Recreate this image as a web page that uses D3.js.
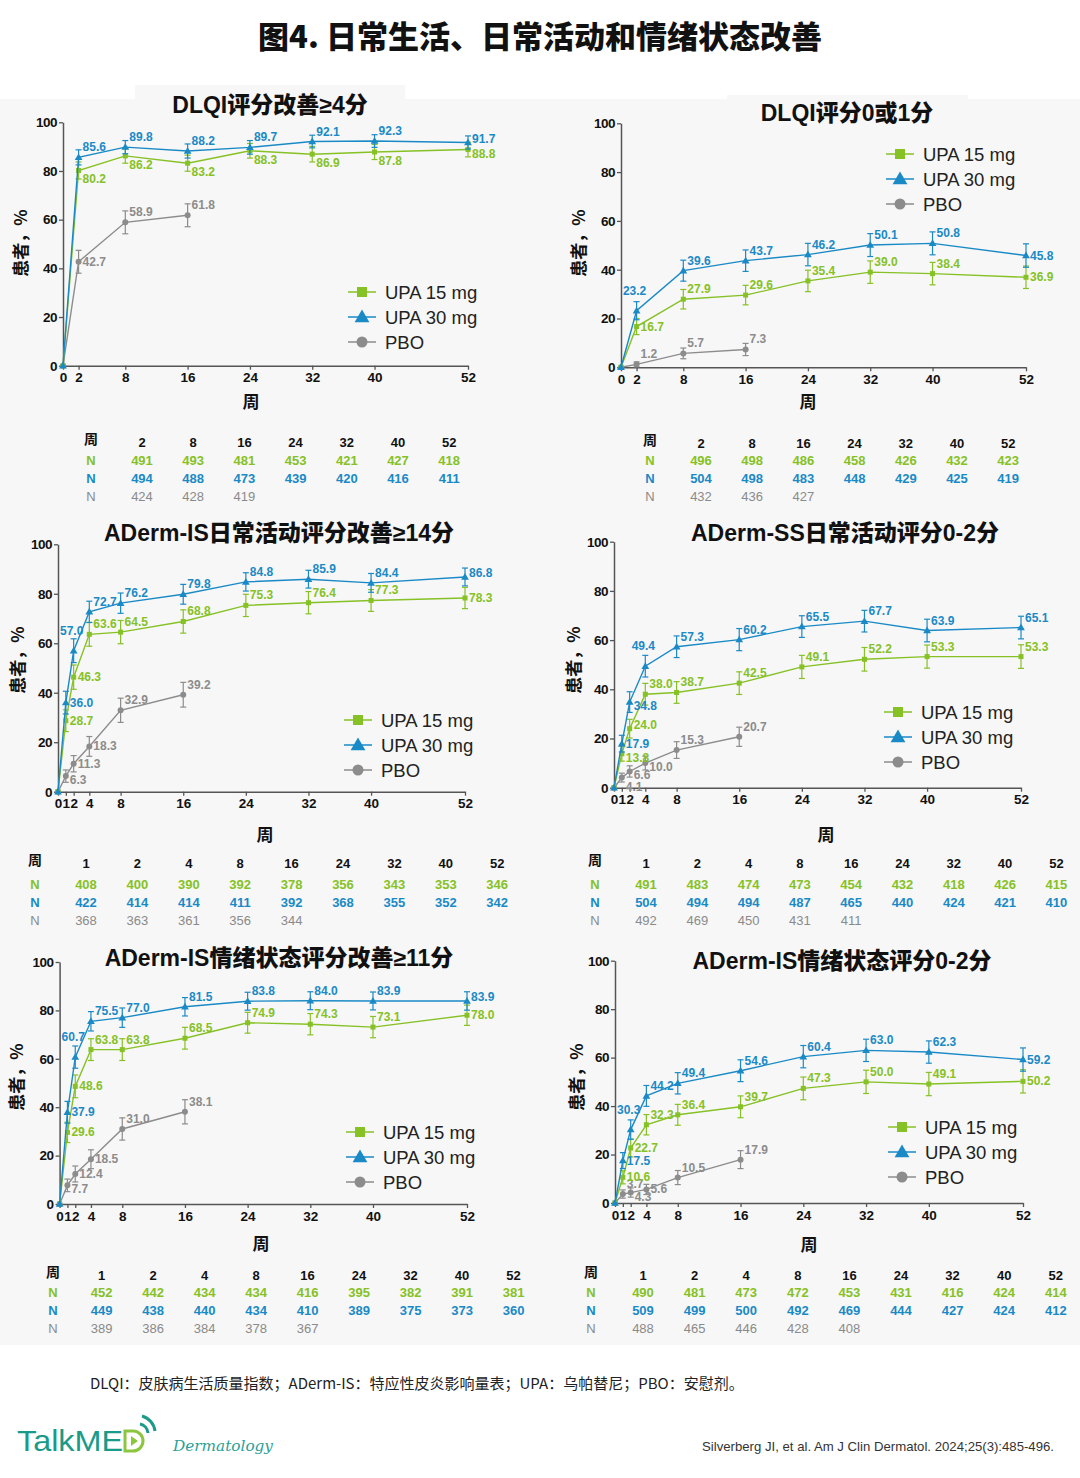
<!DOCTYPE html>
<html>
<head>
<meta charset="utf-8">
<script src="https://cdn.jsdelivr.net/npm/d3@7"></script>
<style>
  body { margin: 0; background: #fff; }
  svg { display: block; }
</style>
</head>
<body>
<script>
// ** Weeks on the x axis and in the N tables
var weeksA = [0, 2, 8, 16, 24, 32, 40, 52];
var weeksB = [0, 1, 2, 4, 8, 16, 24, 32, 40, 52];
var pboWeeksA = [0, 2, 8, 16];
var pboWeeksB = [0, 1, 2, 4, 8, 16];
var tableWeeksA = [2, 8, 16, 24, 32, 40, 52];
var tableWeeksB = [1, 2, 4, 8, 16, 24, 32, 40, 52];
var seriesNames = ['UPA 15 mg', 'UPA 30 mg', 'PBO'];

// ** DLQI评分改善≥4分
var dlqi4Upa15 = [0, 80.2, 86.2, 83.2, 88.3, 86.9, 87.8, 88.8];
var dlqi4Upa30 = [0, 85.6, 89.8, 88.2, 89.7, 92.1, 92.3, 91.7];
var dlqi4Pbo = [0, 42.7, 58.9, 61.8];
var dlqi4Ci15 = [3.5, 3.0, 3.3, 3.0, 3.2, 3.1, 3.0];
var dlqi4Ci30 = [3.1, 2.7, 2.9, 2.8, 2.6, 2.6, 2.7];
var dlqi4CiPbo = [4.7, 4.7, 4.7];
var dlqi4N15 = [491, 493, 481, 453, 421, 427, 418];
var dlqi4N30 = [494, 488, 473, 439, 420, 416, 411];
var dlqi4NPbo = [424, 428, 419];

// ** DLQI评分0或1分
var dlqi01Upa15 = [0, 16.7, 27.9, 29.6, 35.4, 39.0, 38.4, 36.9];
var dlqi01Upa30 = [0, 23.2, 39.6, 43.7, 46.2, 50.1, 50.8, 45.8];
var dlqi01Pbo = [0, 1.2, 5.7, 7.3];
var dlqi01Ci15 = [3.3, 4.0, 4.0, 4.4, 4.6, 4.6, 4.6];
var dlqi01Ci30 = [3.7, 4.3, 4.4, 4.6, 4.7, 4.7, 4.8];
var dlqi01CiPbo = [1.0, 2.2, 2.5];
var dlqi01N15 = [496, 498, 486, 458, 426, 432, 423];
var dlqi01N30 = [504, 498, 483, 448, 429, 425, 419];
var dlqi01NPbo = [432, 436, 427];

// ** ADerm-IS日常活动评分改善≥14分
var isDaUpa15 = [0, 28.7, 46.3, 63.6, 64.5, 68.8, 75.3, 76.4, 77.3, 78.3];
var isDaUpa30 = [0, 36.0, 57.0, 72.7, 76.2, 79.8, 84.8, 85.9, 84.4, 86.8];
var isDaPbo = [0, 6.3, 11.3, 18.3, 32.9, 39.2];
var isDaCi15 = [4.4, 4.9, 4.8, 4.7, 4.7, 4.5, 4.5, 4.4, 4.3];
var isDaCi30 = [4.6, 4.8, 4.3, 4.1, 4.0, 3.7, 3.6, 3.8, 3.6];
var isDaCiPbo = [2.5, 3.3, 4.0, 4.9, 5.0];
var isDaN15 = [408, 400, 390, 392, 378, 356, 343, 353, 346];
var isDaN30 = [422, 414, 414, 411, 392, 368, 355, 352, 342];
var isDaNPbo = [368, 363, 361, 356, 344];

// ** ADerm-SS日常活动评分0-2分
var ssDaUpa15 = [0, 13.8, 24.0, 38.0, 38.7, 42.5, 49.1, 52.2, 53.3, 53.3];
var ssDaUpa30 = [0, 17.9, 34.8, 49.4, 57.3, 60.2, 65.5, 67.7, 63.9, 65.1];
var ssDaPbo = [0, 4.1, 6.6, 10.0, 15.3, 20.7];
var ssDaCi15 = [3.0, 3.8, 4.4, 4.4, 4.6, 4.7, 4.8, 4.7, 4.8];
var ssDaCi30 = [3.4, 4.2, 4.4, 4.4, 4.5, 4.4, 4.4, 4.6, 4.6];
var ssDaCiPbo = [1.8, 2.3, 2.8, 3.4, 3.9];
var ssDaN15 = [491, 483, 474, 473, 454, 432, 418, 426, 415];
var ssDaN30 = [504, 494, 494, 487, 465, 440, 424, 421, 410];
var ssDaNPbo = [492, 469, 450, 431, 411];

// ** ADerm-IS情绪状态评分改善≥11分
var isEsUpa15 = [0, 29.6, 48.6, 63.8, 63.8, 68.5, 74.9, 74.3, 73.1, 78.0];
var isEsUpa30 = [0, 37.9, 60.7, 75.5, 77.0, 81.5, 83.8, 84.0, 83.9, 83.9];
var isEsPbo = [0, 7.7, 12.4, 18.5, 31.0, 38.1];
var isEsCi15 = [4.2, 4.7, 4.5, 4.5, 4.5, 4.3, 4.4, 4.4, 4.2];
var isEsCi30 = [4.5, 4.6, 4.0, 4.0, 3.8, 3.7, 3.7, 3.7, 3.8];
var isEsCiPbo = [2.6, 3.3, 3.9, 4.6, 5.0];
var isEsN15 = [452, 442, 434, 434, 416, 395, 382, 391, 381];
var isEsN30 = [449, 438, 440, 434, 410, 389, 375, 373, 360];
var isEsNPbo = [389, 386, 384, 378, 367];

// ** ADerm-IS情绪状态评分0-2分
var is02Upa15 = [0, 10.6, 22.7, 32.3, 36.4, 39.7, 47.3, 50.0, 49.1, 50.2];
var is02Upa30 = [0, 17.5, 30.3, 44.2, 49.4, 54.6, 60.4, 63.0, 62.3, 59.2];
var is02Pbo = [0, 3.7, 4.3, 5.6, 10.5, 17.9];
var is02Ci15 = [2.7, 3.7, 4.2, 4.3, 4.5, 4.7, 4.8, 4.8, 4.8];
var is02Ci30 = [3.3, 4.0, 4.3, 4.4, 4.5, 4.6, 4.6, 4.6, 4.8];
var is02CiPbo = [1.7, 1.9, 2.1, 2.9, 3.7];
var is02N15 = [490, 481, 473, 472, 453, 431, 416, 424, 414];
var is02N30 = [509, 499, 500, 492, 469, 444, 427, 424, 412];
var is02NPbo = [488, 465, 446, 428, 408];

//** Colours and fonts
var GREEN = '#86c125', BLUE = '#1a8ac6', GRAY = '#8c8c8c';
var colors = [GREEN, BLUE, GRAY];
var FONT = "'Liberation Sans','Noto Sans CJK SC',sans-serif";
var CJK = "'Noto Sans CJK SC','Liberation Sans',sans-serif";

//** Label placement per point (r: right, ur/dr: right nudged up/down, ar: above right, br: below right, a: above)
var labelPos = {
  dlqi4: [['br','br','br','br','br','br','dr'], ['ar','ar','ar','ar','ar','ar','ur'], ['r','ar','ar']],
  dlqi01: [['r','ar','ar','ar','ar','ar','r'], ['a','ar','ar','ar','ar','ar','r'], ['ar','ar','ar']],
  isDa: [['r','r','ar','ar','ar','ar','ar','ar','r'], ['r','a','ar','ar','ar','ar','ar','ar','ur'], ['dr','r','r','ar','ar']],
  ssDa: [['dr','ur','ar','ar','ar','ar','ar','ar','ar'], ['r','dr','a','ar','ar','ar','ar','ar','ar'], ['br','dr','dr','ar','ar']],
  isEs: [['r','r','ar','ar','ar','ar','ar','ar','r'], ['r','a','ar','ar','ar','ar','ar','ar','ur'], ['dr','r','r','ar','ar']],
  is02: [['r','r','ar','ar','ar','ar','ar','ar','r'], ['r','a','ar','ar','ar','ar','ar','ar','r'], ['ar','dr','r','ar','ar']]
};
var labelShift = { r: [4, 0], ur: [4, -4], dr: [4, 4], ar: [4, -10], br: [4, 9], a: [-2, -20] };

var svg = d3.select('body').append('svg')
  .attr('width', 1080).attr('height', 1478)
  .style('font-family', FONT);

// ** Background
svg.append('rect').attr('x', 0).attr('y', 0).attr('width', 1080).attr('height', 1478).attr('fill', '#fff');
svg.append('rect').attr('x', 0).attr('y', 99).attr('width', 1080).attr('height', 1246).attr('fill', '#f7f7f7');
svg.append('rect').attr('x', 135).attr('y', 85).attr('width', 270).attr('height', 15).attr('fill', '#f7f7f7');
svg.append('rect').attr('x', 727).attr('y', 95).attr('width', 241).attr('height', 5).attr('fill', '#f7f7f7');

// ** Main title
svg.append('text').attr('x', 540).attr('y', 48).attr('text-anchor', 'middle')
  .style('font-family', CJK).style('font-size', '31px').style('font-weight', 900)
  .attr('fill', '#111').text('图4. 日常生活、日常活动和情绪状态改善');

//** Panels
var panels = [
  { key: 'dlqi4', title: 'DLQI评分改善≥4分', weeks: weeksA, pboWeeks: pboWeeksA, tWeeks: tableWeeksA,
    vals: [dlqi4Upa15, dlqi4Upa30, dlqi4Pbo], ci: [dlqi4Ci15, dlqi4Ci30, dlqi4CiPbo], n: [dlqi4N15, dlqi4N30, dlqi4NPbo],
    x0: 63, x52: 468, y0: 365.7, y100: 122.3, tx: 270, ty: 105, lx: 348, ly: 292,
    nx: 91, c1: 142, step: 51.2, hy: 440, ry: 460, ytx: 19, yty: 243, xtx: 251, xty: 400 },
  { key: 'dlqi01', title: 'DLQI评分0或1分', weeks: weeksA, pboWeeks: pboWeeksA, tWeeks: tableWeeksA,
    vals: [dlqi01Upa15, dlqi01Upa30, dlqi01Pbo], ci: [dlqi01Ci15, dlqi01Ci30, dlqi01CiPbo], n: [dlqi01N15, dlqi01N30, dlqi01NPbo],
    x0: 621, x52: 1026, y0: 367.3, y100: 123.3, tx: 847, ty: 113, lx: 886, ly: 154,
    nx: 650, c1: 701, step: 51.2, hy: 441, ry: 460, ytx: 577, yty: 243, xtx: 808, xty: 400 },
  { key: 'isDa', title: 'ADerm-IS日常活动评分改善≥14分', weeks: weeksB, pboWeeks: pboWeeksB, tWeeks: tableWeeksB,
    vals: [isDaUpa15, isDaUpa30, isDaPbo], ci: [isDaCi15, isDaCi30, isDaCiPbo], n: [isDaN15, isDaN30, isDaNPbo],
    x0: 58, x52: 465, y0: 791.7, y100: 544.3, tx: 279, ty: 533, lx: 344, ly: 720,
    nx: 35, c1: 86, step: 51.4, hy: 861, ry: 884, ytx: 16, yty: 660, xtx: 265, xty: 833 },
  { key: 'ssDa', title: 'ADerm-SS日常活动评分0-2分', weeks: weeksB, pboWeeks: pboWeeksB, tWeeks: tableWeeksB,
    vals: [ssDaUpa15, ssDaUpa30, ssDaPbo], ci: [ssDaCi15, ssDaCi30, ssDaCiPbo], n: [ssDaN15, ssDaN30, ssDaNPbo],
    x0: 614, x52: 1021, y0: 787.7, y100: 541.7, tx: 845, ty: 533, lx: 884, ly: 712,
    nx: 595, c1: 646, step: 51.3, hy: 861, ry: 884, ytx: 572, yty: 660, xtx: 826, xty: 833 },
  { key: 'isEs', title: 'ADerm-IS情绪状态评分改善≥11分', weeks: weeksB, pboWeeks: pboWeeksB, tWeeks: tableWeeksB,
    vals: [isEsUpa15, isEsUpa30, isEsPbo], ci: [isEsCi15, isEsCi30, isEsCiPbo], n: [isEsN15, isEsN30, isEsNPbo],
    x0: 59.6, x52: 467, y0: 1204, y100: 962, tx: 279, ty: 958, lx: 346, ly: 1132,
    nx: 53, c1: 101.6, step: 51.5, hy: 1273, ry: 1292, ytx: 15, yty: 1077, xtx: 261, xty: 1242 },
  { key: 'is02', title: 'ADerm-IS情绪状态评分0-2分', weeks: weeksB, pboWeeks: pboWeeksB, tWeeks: tableWeeksB,
    vals: [is02Upa15, is02Upa30, is02Pbo], ci: [is02Ci15, is02Ci30, is02CiPbo], n: [is02N15, is02N30, is02NPbo],
    x0: 615, x52: 1023, y0: 1203, y100: 960.7, tx: 842, ty: 961, lx: 888, ly: 1127,
    nx: 591, c1: 643, step: 51.6, hy: 1273, ry: 1292, ytx: 575, yty: 1077, xtx: 809, xty: 1243 }
];

// ** Marker helper
var drawMarker = function(sel, k, cx, cy, big) {
  if (k === 0) {
    var s = big ? 10 : 5;
    sel.append('rect').attr('x', cx - s / 2).attr('y', cy - s / 2).attr('width', s).attr('height', s).attr('fill', GREEN);
  } else if (k === 1) {
    sel.append('path').attr('d', d3.symbol().type(d3.symbolTriangle).size(big ? 95 : 26)())
      .attr('transform', 'translate(' + cx + ',' + (cy + (big ? 1 : 0.5)) + ')').attr('fill', BLUE);
  } else {
    sel.append('circle').attr('cx', cx).attr('cy', cy).attr('r', big ? 5.5 : 3).attr('fill', GRAY);
  }
};

var drawPanel = function(p) {
  var g = svg.append('g');
  var x = d3.scaleLinear().domain([0, 52]).range([p.x0, p.x52]);
  var y = d3.scaleLinear().domain([0, 100]).range([p.y0, p.y100]);

  // title (latin font first so that ≥ stays narrow)
  g.append('text').attr('x', p.tx).attr('y', p.ty).attr('text-anchor', 'middle').attr('dominant-baseline', 'central')
    .style('font-family', FONT).style('font-size', '23px').style('font-weight', 900).attr('fill', '#111')
    .text(p.title);

  // axes
  var ya = g.append('g').attr('transform', 'translate(' + p.x0 + ',0)')
    .call(d3.axisLeft(y).tickValues([0, 20, 40, 60, 80, 100]).tickSize(4).tickSizeOuter(0).tickPadding(2));
  var xa = g.append('g').attr('transform', 'translate(0,' + p.y0 + ')')
    .call(d3.axisBottom(x).tickValues(p.weeks).tickSize(4).tickSizeOuter(0).tickPadding(3));
  [ya, xa].forEach(function(a) {
    a.select('.domain').attr('stroke', '#555').attr('stroke-width', 1.5);
    a.selectAll('.tick line').attr('stroke', '#555').attr('stroke-width', 1.3);
    a.selectAll('.tick text').attr('fill', '#111').style('font-size', '13.5px').style('font-weight', 'bold')
      .style('font-family', FONT);
  });
  ya.selectAll('.tick text').style('letter-spacing', '-0.5px');

  // axis titles
  g.append('text').attr('transform', 'translate(' + p.ytx + ',' + p.yty + ') rotate(-90)')
    .attr('text-anchor', 'middle').attr('dominant-baseline', 'central')
    .style('font-family', CJK).style('font-size', '17px').style('font-weight', 'bold').attr('fill', '#111')
    .text('患者，%');
  g.append('text').attr('x', p.xtx).attr('y', p.xty).attr('text-anchor', 'middle').attr('dominant-baseline', 'central')
    .style('font-family', CJK).style('font-size', '17px').style('font-weight', 'bold').attr('fill', '#111')
    .text('周');

  // series: PBO first, then 15 mg, then 30 mg on top
  [2, 0, 1].forEach(function(k) {
    var wk = k === 2 ? p.pboWeeks : p.weeks;
    var pts = wk.map(function(w, i) {
      return { w: w, v: p.vals[k][i], e: i ? p.ci[k][i - 1] : 0, pos: i ? labelPos[p.key][k][i - 1] : null };
    });
    var line = d3.line().x(function(d) { return x(d.w); }).y(function(d) { return y(d.v); });
    g.append('path').datum(pts).attr('d', line).attr('fill', 'none')
      .attr('stroke', colors[k]).attr('stroke-width', 1.4);

    var sg = g.append('g');
    pts.forEach(function(d, i) {
      var cx = x(d.w), cy = y(d.v);
      if (i > 0) {
        var t = y(d.v + d.e), b = y(d.v - d.e);
        sg.append('line').attr('x1', cx).attr('x2', cx).attr('y1', t).attr('y2', b)
          .attr('stroke', colors[k]).attr('stroke-width', 1.2);
        [t, b].forEach(function(yy) {
          sg.append('line').attr('x1', cx - 3).attr('x2', cx + 3).attr('y1', yy).attr('y2', yy)
            .attr('stroke', colors[k]).attr('stroke-width', 1.2);
        });
      }
      drawMarker(sg, k, cx, cy, false);
      if (i > 0) {
        var sh = labelShift[d.pos];
        sg.append('text').attr('x', cx + sh[0]).attr('y', cy + sh[1])
          .attr('text-anchor', d.pos === 'a' ? 'middle' : 'start').attr('dominant-baseline', 'central')
          .style('font-size', '12px').style('font-weight', 'bold').attr('fill', colors[k])
          .text(d.v.toFixed(1));
      }
    });
  });

  // legend
  seriesNames.forEach(function(name, k) {
    var ly = p.ly + k * 25;
    g.append('line').attr('x1', p.lx).attr('x2', p.lx + 28).attr('y1', ly).attr('y2', ly)
      .attr('stroke', colors[k]).attr('stroke-width', 1.5);
    drawMarker(g, k, p.lx + 14, ly, true);
    g.append('text').attr('x', p.lx + 37).attr('y', ly).attr('dominant-baseline', 'central')
      .style('font-size', '18.5px').attr('fill', '#222').text(name);
  });

  // N table
  g.append('text').attr('x', p.nx).attr('y', p.hy - 2).attr('text-anchor', 'middle').attr('dominant-baseline', 'central')
    .style('font-family', CJK).style('font-size', '14px').style('font-weight', 'bold').attr('fill', '#111').text('周');
  p.tWeeks.forEach(function(w, j) {
    g.append('text').attr('x', p.c1 + j * p.step).attr('y', p.hy + 2).attr('text-anchor', 'middle')
      .attr('dominant-baseline', 'central').style('font-size', '13px').style('font-weight', 'bold')
      .attr('fill', '#111').text(w);
  });
  p.n.forEach(function(row, k) {
    var ry = p.ry + k * 18;
    var col = k === 2 ? '#8a8a8a' : colors[k];
    g.append('text').attr('x', p.nx).attr('y', ry).attr('text-anchor', 'middle').attr('dominant-baseline', 'central')
      .style('font-size', '13px').style('font-weight', k === 2 ? 'normal' : 'bold').attr('fill', col).text('N');
    row.forEach(function(v, j) {
      g.append('text').attr('x', p.c1 + j * p.step).attr('y', ry).attr('text-anchor', 'middle')
        .attr('dominant-baseline', 'central').style('font-size', '13px')
        .style('font-weight', k === 2 ? 'normal' : 'bold').attr('fill', col).text(v);
    });
  });
};

panels.forEach(drawPanel);

// ** Footnote and citation
svg.append('text').attr('x', 90).attr('y', 1382).attr('dominant-baseline', 'central')
  .style('font-family', CJK).style('font-size', '15px').attr('fill', '#222')
  .text('DLQI：皮肤病生活质量指数；ADerm-IS：特应性皮炎影响量表；UPA：乌帕替尼；PBO：安慰剂。');
svg.append('text').attr('x', 1054).attr('y', 1446).attr('text-anchor', 'end').attr('dominant-baseline', 'central')
  .attr('textLength', 352).attr('lengthAdjust', 'spacingAndGlyphs')
  .style('font-size', '13.5px').attr('fill', '#333')
  .text('Silverberg JI, et al. Am J Clin Dermatol. 2024;25(3):485-496.');

// ** TalkMED logo
var logo = svg.append('g');
logo.append('text').attr('x', 17).attr('y', 1451).attr('textLength', 106).attr('lengthAdjust', 'spacingAndGlyphs')
  .style('font-size', '29px').attr('fill', '#1a9a88').text('TalkME');
logo.append('path').attr('d', 'M125,1431 h8 a10,10 0 0 1 0,20 h-8 z')
  .attr('fill', 'none').attr('stroke', '#8cc63f').attr('stroke-width', 3);
logo.append('path').attr('d', 'M131,1436 l7,5 l-7,5 z').attr('fill', '#8cc63f');
logo.append('path').attr('d', 'M140,1424 a10,10 0 0 1 8,9').attr('fill', 'none').attr('stroke', '#1a9a88').attr('stroke-width', 3);
logo.append('path').attr('d', 'M142,1416 a18,18 0 0 1 13,15').attr('fill', 'none').attr('stroke', '#1a9a88').attr('stroke-width', 3);
logo.append('text').attr('x', 173).attr('y', 1451).attr('textLength', 100).attr('lengthAdjust', 'spacingAndGlyphs')
  .style('font-family', "'DejaVu Serif',serif").style('font-style', 'italic').style('font-size', '15px')
  .attr('fill', '#2aa198').text('Dermatology');
</script>
</body>
</html>
